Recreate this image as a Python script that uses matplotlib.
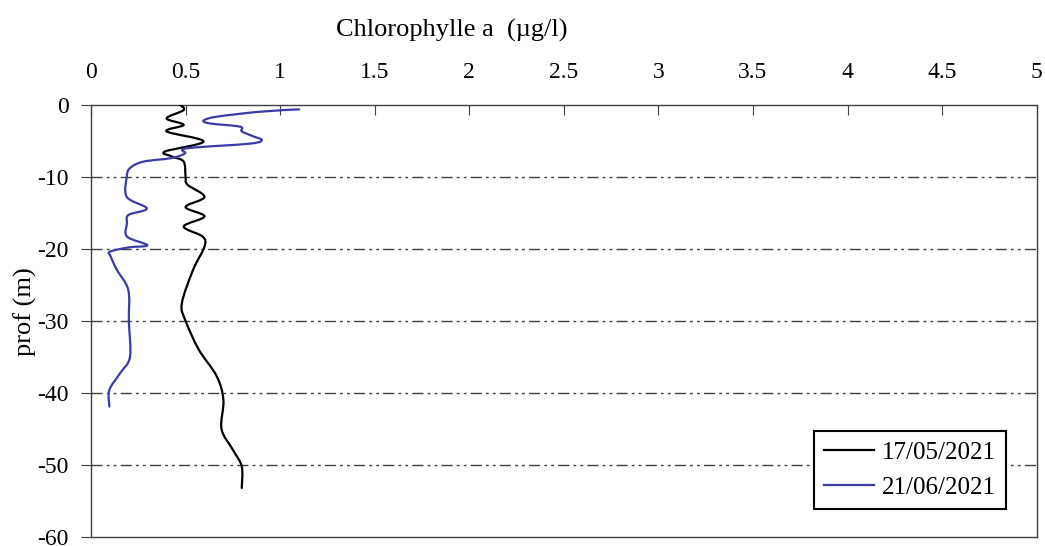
import numpy as np
import matplotlib.pyplot as plt
from matplotlib.path import Path
from matplotlib.patches import PathPatch
from matplotlib.lines import Line2D
from matplotlib.ticker import MultipleLocator

plt.rcParams["font.family"] = ["Liberation Serif", "DejaVu Serif"]

# Profil du 17/05/2021 : chlorophylle a (µg/l) en fonction de la profondeur (m)
chl_mai = [0.47, 0.49, 0.40, 0.49, 0.40, 0.595, 0.39, 0.43, 0.49, 0.50,
           0.51, 0.60, 0.50, 0.60, 0.49, 0.59, 0.60, 0.54, 0.48, 0.50,
           0.57, 0.665, 0.70, 0.69, 0.75, 0.797, 0.797]
prof_mai = [0.0, -0.74, -1.9, -2.8, -3.7, -5.1, -6.5, -7.2, -7.9, -10.0,
            -11.1, -12.8, -14.2, -15.5, -16.9, -18.3, -19.7, -22.9, -27.6, -30.0,
            -34.0, -37.7, -41.0, -45.0, -47.9, -50.2, -53.2]

# Profil du 21/06/2021
chl_juin = [1.10, 0.894, 0.665, 0.595, 0.63, 0.788, 0.797, 0.859, 0.903, 0.841,
            0.506, 0.497, 0.427, 0.277, 0.206, 0.189, 0.189, 0.295, 0.198, 0.19,
            0.19, 0.298, 0.20, 0.10, 0.105, 0.136, 0.197, 0.20, 0.206, 0.153,
            0.097, 0.097]
prof_juin = [-0.64, -0.97, -1.66, -2.2, -2.6, -3.05, -3.7, -4.4, -4.9, -5.4,
             -6.05, -6.75, -7.4, -7.9, -8.8, -10.0, -12.8, -14.4, -15.3, -16.5,
             -18.3, -19.5, -19.8, -20.4, -21.1, -22.9, -25.7, -30.0, -35.0, -37.3,
             -39.6, -41.9]

labels = ["17/05/2021", "21/06/2021"]
couleurs = ["black", "#3b3ba8"]


def courbe_lissee(x, y):
    """Chemin de Bézier passant par les points (lissage type Catmull-Rom)."""
    p = np.column_stack([x, y]).astype(float)
    ext = np.vstack([p[0], p, p[-1]])
    verts = [p[0]]
    codes = [Path.MOVETO]
    for i in range(1, len(ext) - 2):
        p0, p1, p2, p3 = ext[i - 1], ext[i], ext[i + 1], ext[i + 2]
        verts += [p1 + (p2 - p0) / 6, p2 - (p3 - p1) / 6, p2]
        codes += [Path.CURVE4] * 3
    return Path(verts, codes)


fig = plt.figure(figsize=(10.45, 5.46), dpi=100)
ax = fig.add_axes([0.0871, 0.0165, 0.9049, 0.7917])

for xs, ys, c in [(chl_mai, prof_mai, couleurs[0]), (chl_juin, prof_juin, couleurs[1])]:
    ax.add_patch(PathPatch(courbe_lissee(xs, ys), facecolor="none", edgecolor=c,
                           lw=1.6, capstyle="round", joinstyle="round", zorder=3))

ax.set_xlim(0, 5)
ax.set_ylim(-60, 0)
ax.xaxis.set_major_locator(MultipleLocator(0.5))
ax.yaxis.set_major_locator(MultipleLocator(10))
ax.xaxis.tick_top()
ax.xaxis.set_major_formatter(lambda v, p: f"{v:g}")
ax.yaxis.set_major_formatter(lambda v, p: f"{v:g}")
ax.tick_params(axis="x", direction="in", length=7, pad=16, labelsize=17, color="#404040")
ax.tick_params(axis="y", direction="out", length=7.2, pad=9, labelsize=17, color="#404040")

for s in ax.spines.values():
    s.set_color("#404040")
    s.set_linewidth(1.0)

for y in range(-50, 0, 10):
    ax.axhline(y, color="#404040", lw=1.0, ls=(0, (8, 3, 2, 3, 2, 3)), zorder=0)

fig.text(25 / 1045, 1 - 312 / 546, "prof (m)", fontsize=19, rotation=90,
         ha="center", va="center")
fig.text(452 / 1045, 1 - 30 / 546, "Chlorophylle a  (\u00b5g/l)", fontsize=19,
         ha="center", va="center")

handles = [Line2D([], [], color=c, lw=1.6) for c in couleurs]
leg = ax.legend(handles, labels, loc="lower right", bbox_to_anchor=(0.9675, 0.0648),
                borderaxespad=0, fontsize=18, frameon=True, fancybox=False,
                handlelength=2.0, handletextpad=0.3, borderpad=0.4, labelspacing=0.5)
leg.get_frame().set_edgecolor("black")
leg.get_frame().set_linewidth(1.5)
leg.get_frame().set_alpha(1)

fig.savefig("out.png", dpi=100)
